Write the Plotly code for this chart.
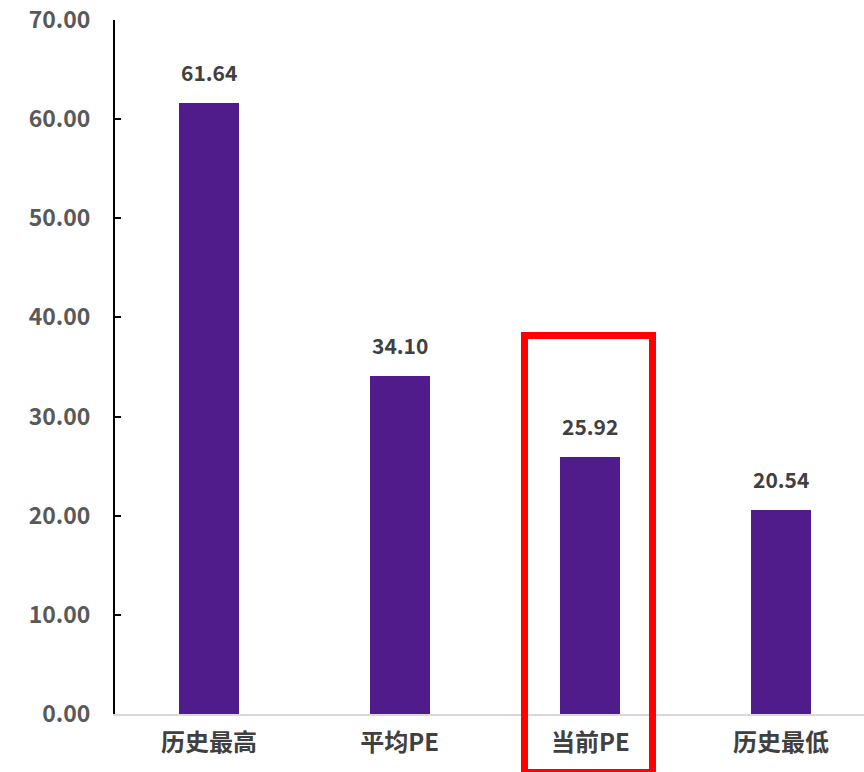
import plotly.graph_objects as go

categories = ["历史最高", "平均PE", "当前PE", "历史最低"]
values = [61.64, 34.10, 25.92, 20.54]
value_labels = ["61.64", "34.10", "25.92", "20.54"]
y_ticks = [0, 10, 20, 30, 40, 50, 60, 70]

BAR = "#501C8C"
FONT = "Noto Sans CJK SC"

fig = go.Figure()
fig.add_trace(go.Bar(
    x=categories, y=values, width=0.315,
    marker=dict(color=BAR, line=dict(width=0)),
))

for c, v, t in zip(categories, values, value_labels):
    fig.add_annotation(x=c, y=v, text=t, showarrow=False, yanchor="bottom",
                       yshift=14, font=dict(family=FONT, size=21, color="#404040", weight="bold"))

fig.add_shape(type="rect", xref="paper", yref="paper",
              x0=0.5467, x1=0.7176, y0=-0.0843, y1=0.5454,
              line=dict(color="#FF0000", width=7), layer="above")

fig.update_layout(
    width=864, height=772,
    margin=dict(l=115, r=0, t=20, b=58),
    plot_bgcolor="white", paper_bgcolor="white",
    showlegend=False,
    bargap=0,
    font=dict(family=FONT),
)
fig.update_xaxes(
    range=[-0.493, 3.435],
    showline=True, linecolor="#D9D9D9", linewidth=2,
    showgrid=False, ticks="",
    tickfont=dict(family=FONT, size=24, color="#404040", weight="bold"),
    ticklabelstandoff=6,
)
fig.update_yaxes(
    range=[0, 70], tickvals=y_ticks, tickformat=".2f",
    showline=True, linecolor="black", linewidth=2,
    ticks="inside", ticklen=6, tickwidth=2, tickcolor="black",
    showgrid=False, zeroline=False,
    tickfont=dict(family=FONT, size=23, color="#595959", weight="bold"),
    ticklabelstandoff=18,
)

fig.write_html("out.html")
